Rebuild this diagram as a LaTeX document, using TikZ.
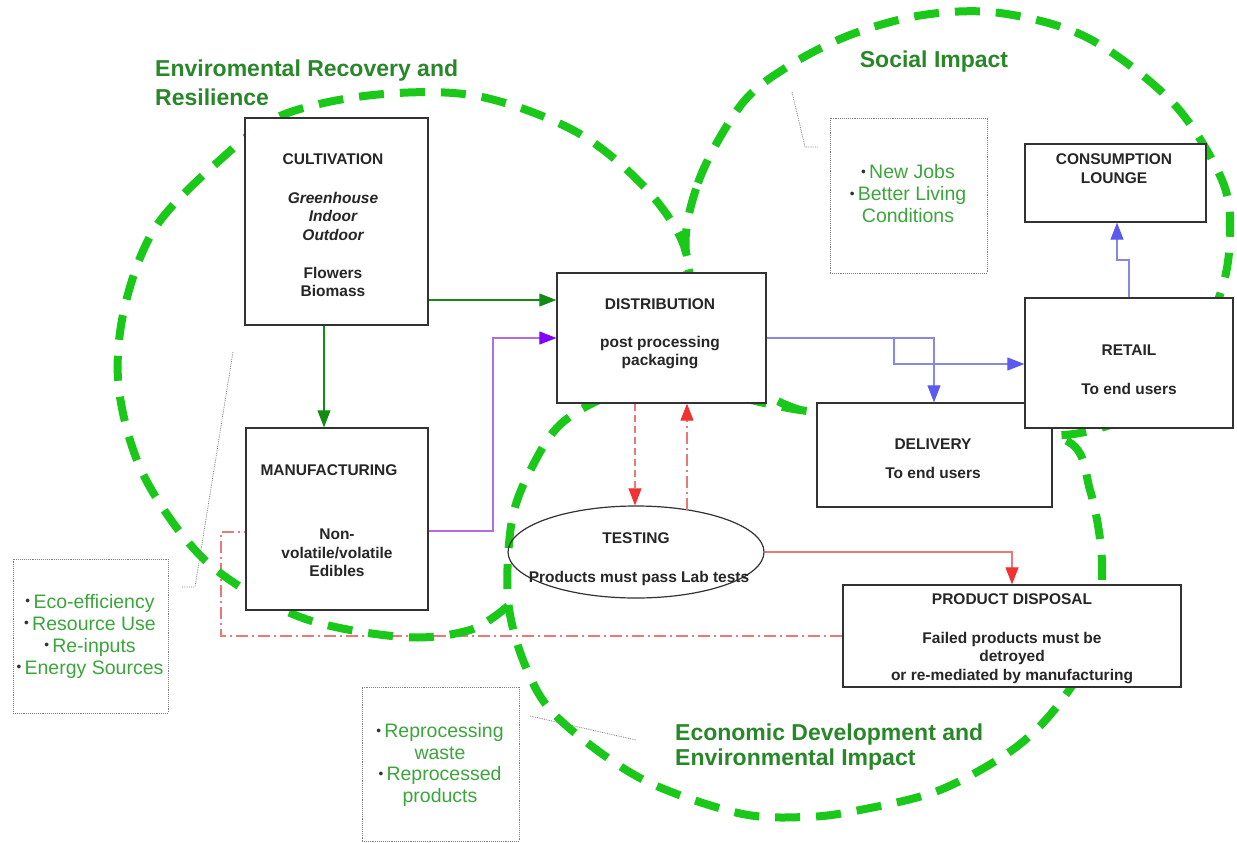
\documentclass[tikz,border=0pt]{standalone}
\usepackage{fontspec}
\setmainfont{Liberation Sans}
\usetikzlibrary{arrows.meta,backgrounds,calc,shapes.geometric}
\definecolor{loopgreen}{RGB}{25,200,25}
\definecolor{titlegreen}{RGB}{40,135,40}
\definecolor{notegreen}{RGB}{60,165,60}
\definecolor{arrgreen}{RGB}{20,140,20}
\definecolor{lpurple}{RGB}{175,110,225}
\definecolor{hpurple}{RGB}{130,0,255}
\definecolor{lblue}{RGB}{135,135,235}
\definecolor{hblue}{RGB}{90,90,240}
\definecolor{lred}{RGB}{235,120,120}
\definecolor{hred}{RGB}{240,50,50}
\definecolor{boxgray}{RGB}{50,50,50}
\newcommand\btfont{\fontsize{15.5}{18.5}\selectfont\bfseries}
\newcommand\ntfont{\fontsize{19.5}{22}\selectfont}
\newcommand\ttlfont{\fontsize{23}{28}\selectfont\bfseries}
\newcommand\bul{\textcolor{black!80}{\raisebox{0.2ex}{\scalebox{0.7}{\textbullet}}}\,}
\begin{document}
\begin{tikzpicture}[x=1pt,y=-1pt,
  procbox/.style={draw=boxgray, line width=1.3pt, fill=white, inner sep=0pt},
  notebox/.style={draw=gray, densely dotted, line width=0.9pt, fill=white, inner sep=0pt},
  btxt/.style={font=\btfont, align=center, inner sep=0pt, text=black!85},
  ntxt/.style={font=\ntfont, align=center, inner sep=0pt, text=notegreen},
  ttl/.style={font=\ttlfont, inner sep=0pt, text=titlegreen, anchor=base west},
  greenloop/.style={draw=loopgreen, line width=8pt, dash pattern=on 25pt off 16pt},
  garrow/.style={draw=arrgreen, line width=1.1pt, -{Triangle[length=17pt,width=13pt,color=arrgreen]}},
  parrow/.style={draw=lpurple, line width=1.1pt, -{Triangle[length=17pt,width=13pt,color=hpurple]}},
  barrow/.style={draw=lblue, line width=1.1pt, -{Triangle[length=17pt,width=13pt,color=hblue]}},
  rarrow/.style={draw=lred, line width=1.1pt, -{Triangle[length=17pt,width=13pt,color=hred]}},
  dashdot/.style={dash pattern=on 12pt off 4pt on 2pt off 4pt},
  leader/.style={draw=gray, densely dotted, line width=0.8pt}
]
\useasboundingbox (0,0) rectangle (1237,843);

% ---------- boxes ----------
\node[procbox, minimum width=183pt, minimum height=207pt] (cult) at (336.5,221.5) {};
\node[procbox, minimum width=182pt, minimum height=182pt] (manuf) at (337,519) {};
\node[procbox, minimum width=209pt, minimum height=130pt] (dist) at (661.5,338) {};
\node[procbox, minimum width=181pt, minimum height=78pt] (cons) at (1115.5,183) {};
\node[procbox, minimum width=235pt, minimum height=104pt] (deliv) at (934.5,455) {};
\node[procbox, minimum width=208pt, minimum height=130pt] (retail) at (1129,363) {};
\node[procbox, minimum width=338pt, minimum height=102pt] (disp) at (1012,636) {};
\node[draw=boxgray, line width=1.2pt, ellipse, minimum width=256pt, minimum height=92pt, inner sep=0pt] (test) at (636,552) {};

\node[notebox, minimum width=157pt, minimum height=155pt] (soc) at (908.5,195.5) {};
\node[notebox, minimum width=155pt, minimum height=154pt] (eco) at (90.5,636) {};
\node[notebox, minimum width=157pt, minimum height=154pt] (rep) at (440.5,764) {};

% ---------- box texts ----------
\node[btxt] (cultT) at (333,159) {CULTIVATION};
\node[btxt, font=\btfont\itshape] (cultK) at (333,216) {Greenhouse\\Indoor\\Outdoor};
\node[btxt] (cultP) at (333,282) {Flowers\\Biomass};
\node[btxt] (manT) at (329,470) {MANUFACTURING};
\node[btxt] (manP) at (337,553) {Non-\\volatile/volatile\\Edibles};
\node[btxt] (distT) at (660,304) {DISTRIBUTION};
\node[btxt] (distP) at (660,352.5) {post processing\\packaging};
\node[btxt] (testT) at (636,538) {TESTING};
\node[btxt] (testP) at (639,578) {Products must pass Lab tests};
\node[btxt] (consT) at (1114,168.5) {CONSUMPTION\\LOUNGE};
\node[btxt] (retT) at (1129,350) {RETAIL};
\node[btxt] (retP) at (1129,389) {To end users};
\node[btxt] (delT) at (933,444) {DELIVERY};
\node[btxt] (delP) at (933,473) {To end users};
\node[btxt] (dispT) at (1012,599) {PRODUCT DISPOSAL};
\node[btxt] (dispP) at (1012,658) {Failed products must be\\detroyed\\or re-mediated by manufacturing};

% ---------- notes ----------
\node[ntxt] (socT) at (908,194) {\bul New Jobs\\\bul Better Living\\Conditions};
\node[ntxt] (ecoT) at (90,636) {\bul Eco-efficiency\\\bul Resource Use\\\bul Re-inputs\\\bul Energy Sources};
\node[ntxt, font=\fontsize{19.5}{21.5}\selectfont] (repT) at (440,765) {\bul Reprocessing\\waste\\\bul Reprocessed\\products};

% ---------- titles ----------
\node[ttl] (t1a) at (155,77) {Enviromental Recovery and};
\node[ttl] (t1b) at (155,105) {Resilience};
\node[ttl, anchor=base] (t2) at (934,68) {Social Impact};
\node[ttl] (t3a) at (675,740) {Economic Development and};
\node[ttl] (t3b) at (675,765) {Environmental Impact};

% ---------- helper coordinates ----------
\coordinate (yA) at (0,300);
\coordinate (xA) at (324,0);
\coordinate (yP) at (0,531);
\coordinate (xP) at (493,0);
\coordinate (xB1) at (934,0);
\coordinate (xB2) at (894,0);
\coordinate (yB) at (0,364);
\coordinate (yC) at (0,260);
\coordinate (xC2) at (1117,0);
\coordinate (xR1) at (635,0);
\coordinate (tUp) at (687,510);
\coordinate (xR3) at (1012,0);
\coordinate (yR) at (0,636);
\coordinate (xR4) at (221,0);
\coordinate (yR2) at (0,532);
\coordinate (l1a) at (792,92);
\coordinate (l1b) at (805,147);
\coordinate (l1c) at (818,147);
\coordinate (l2a) at (182,587);
\coordinate (l2b) at (195,587);
\coordinate (l2c) at (233,352);
\coordinate (l3a) at (530,716);
\coordinate (l3b) at (636,740);

% ---------- background: loops and return line ----------
\begin{scope}[on background layer]
  \fill[white] (0,0) rectangle (1237,843);
  \draw[draw=lred, line width=1.1pt, dashdot]
     (disp.west |- yR) -- (xR4 |- yR) -- (xR4 |- yR2) -- (manuf.west |- yR2);
  % Environmental loop (joins the economic loop's left side)
  \draw[greenloop] plot[smooth, tension=0.55] coordinates {
    (508,606) (470,630) (403,637) (300,617) (208,563) (145,478) (119,390)
    (124,310) (155,228) (220,160) (280,116) (373,95) (477,96) (580,134)
    (655,199) (688,265) (660,340)};
  % Social loop
  \draw[greenloop] plot[smooth cycle, tension=0.55] coordinates {
    (687,262) (698,183) (741,105) (787,67) (850,35) (923,15) (1000,13) (1088,38)
    (1173,103) (1222,180) (1230,237) (1218,300) (1170,390) (1080,433) (950,430)
    (800,410) (730,360)};
  % Economic loop
  \draw[greenloop] plot[smooth cycle, tension=0.55] coordinates {
    (563,422) (620,393) (700,390) (800,410) (950,428) (1065,440) (1090,490)
    (1102,562) (1095,640) (1062,700) (1015,748) (940,790) (860,810) (806,817)
    (738,813) (640,778) (557,717) (525,665) (508,600) (512,520) (532,467)};
\end{scope}

% ---------- connectors ----------
\draw[garrow] (cult.east |- yA) -- (dist.west |- yA);
\draw[garrow] (cult.south -| xA) -- (manuf.north -| xA);
\draw[parrow] (manuf.east |- yP) -- (xP |- yP) -- (xP |- dist.west) -- (dist.west);
\draw[barrow] (dist.east) -- (xB1 |- dist.east) -- (deliv.north -| xB1);
\draw[barrow] (xB2 |- dist.east) -- (xB2 |- yB) -- (retail.west |- yB);
\draw[barrow] (retail.north) -- (retail.north |- yC) -- (xC2 |- yC) -- (cons.south -| xC2);
\draw[rarrow, dash pattern=on 7pt off 4pt] (dist.south -| xR1) -- (xR1 |- test.north);
\draw[rarrow, dashdot] (tUp) -- (dist.south -| tUp);
\draw[rarrow] (test.east) -- (test.east -| xR3) -- (disp.north -| xR3);
\draw[draw=none, -{Triangle[length=17pt,width=13pt,color=hred]}] ($(manuf.west |- yR2)+(-20,0)$) -- (manuf.west |- yR2);

% ---------- leaders ----------
\draw[leader] (l1a) -- (l1b) -- (l1c);
\draw[leader] (l2a) -- (l2b) -- (l2c);
\draw[leader] (l3a) -- (l3b);
\end{tikzpicture}
\end{document}
